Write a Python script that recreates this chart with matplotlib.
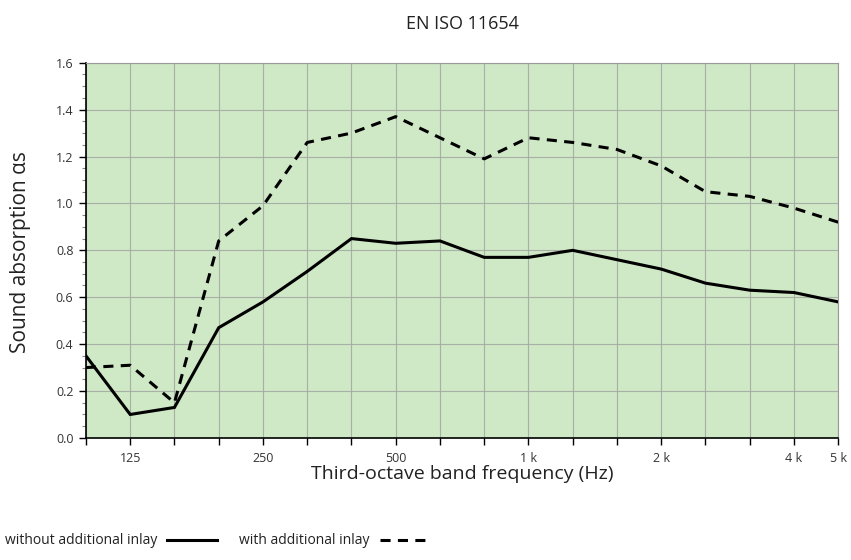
import matplotlib.pyplot as plt
from matplotlib.ticker import MultipleLocator

plt.rcParams['font.family'] = ['Open Sans', 'DejaVu Sans']

# third-octave bands (Hz)
bands = ['100', '125', '160', '200', '250', '315', '400', '500', '630', '800',
         '1k', '1.25k', '1.6k', '2k', '2.5k', '3.15k', '4k', '5k']
tick_labels = ['', '125', '', '', '250', '', '', '500', '', '',
               '1 k', '', '', '2 k', '', '', '4 k', '5 k']

without_inlay = [0.35, 0.10, 0.13, 0.47, 0.58, 0.71, 0.85, 0.83, 0.84, 0.77,
                 0.77, 0.80, 0.76, 0.72, 0.66, 0.63, 0.62, 0.58]
with_inlay = [0.30, 0.31, 0.15, 0.84, 0.99, 1.26, 1.30, 1.37, 1.28, 1.19,
              1.28, 1.26, 1.23, 1.16, 1.05, 1.03, 0.98, 0.92]

x = list(range(len(bands)))

fig = plt.figure(figsize=(8.51, 5.6), dpi=100)
ax = fig.add_axes([0.101, 0.218, 0.884, 0.670])
ax.set_facecolor('#cfe8c5')

ax.plot(x, without_inlay, color='black', lw=2.2, label='without additional inlay',
        solid_joinstyle='miter', zorder=3)
ax.plot(x, with_inlay, color='black', lw=2.2, ls=(0, (3.3, 2.4)),
        label='with additional inlay', zorder=3)

ax.set_xlim(0, len(bands) - 1)
ax.set_ylim(0, 1.6)
ax.set_xticks(x)
ax.set_xticklabels(tick_labels, fontsize=9, color='#333333')
ax.yaxis.set_major_locator(MultipleLocator(0.2))
ax.yaxis.set_minor_locator(MultipleLocator(0.05))
ax.set_yticklabels([f'{v:.1f}' for v in ax.get_yticks()], fontsize=9, color='#333333')
ax.tick_params(axis='both', which='major', length=5, width=1, color='black')
ax.tick_params(axis='y', which='minor', length=3, width=0.8, color='#888888')
ax.tick_params(axis='x', pad=5)
ax.tick_params(axis='y', pad=4)

ax.grid(True, which='major', color='#a0a8a0', lw=0.8, alpha=0.85)
ax.set_axisbelow(True)
for side in ['top', 'right']:
    ax.spines[side].set_color('#999999')
for side in ['left', 'bottom']:
    ax.spines[side].set_color('black')
    ax.spines[side].set_linewidth(1.2)

fig.text(0.543, 0.958, 'EN ISO 11654', ha='center', va='center', fontsize=13, color='#222222')
fig.text(0.543, 0.154, 'Third-octave band frequency (Hz)', ha='center', va='center',
         fontsize=14, color='#222222')
fig.text(0.024, 0.55, 'Sound absorption αs', rotation=90, ha='center', va='center',
         fontsize=15, color='#222222')

fig.legend(loc='center left', bbox_to_anchor=(0.006, 0.034), ncol=2, frameon=False,
           markerfirst=False, fontsize=10, handlelength=3.6, handletextpad=0.7,
           columnspacing=1.6, borderpad=0, borderaxespad=0, labelcolor='#222222')

fig.savefig('out.png', dpi=100)
